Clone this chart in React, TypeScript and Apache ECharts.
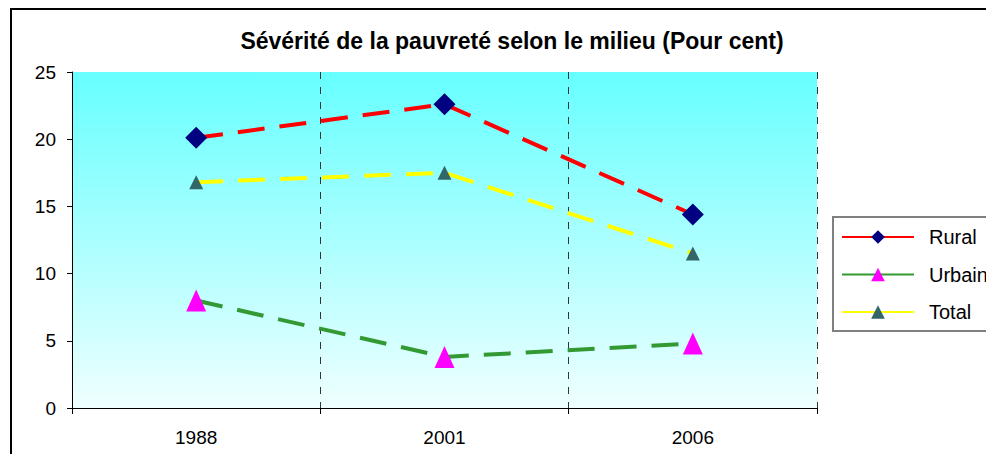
import React, { useEffect, useRef } from "react";
import * as echarts from "echarts";

const categories = ["1988", "2001", "2006"];
const rural = [20.1, 22.6, 14.4];
const urbain = [8.0, 3.8, 4.8];
const total = [16.8, 17.5, 11.5];
const yTicks = { min: 0, max: 25, interval: 5 };

export default function App() {
  const ref = useRef<HTMLDivElement>(null);
  useEffect(() => {
    if (!ref.current) return;
    const chart = echarts.init(ref.current, null, { renderer: "svg" });
    const font = "Liberation Sans, Arial, sans-serif";
    chart.setOption({
      animation: false,
      textStyle: { fontFamily: font },
      title: {
        text: "Sévérité de la pauvreté selon le milieu (Pour cent)",
        left: 507,
        textAlign: "center",
        top: 24,
        textStyle: { fontFamily: font, fontWeight: "bold", fontSize: 23, color: "#000" },
      },
      graphic: [
        {
          type: "rect",
          z: 0,
          shape: { x: 11, y: 9, width: 1000, height: 500 },
          style: { fill: "none", stroke: "#000", lineWidth: 2 },
        },
        {
          type: "rect",
          z: 0,
          shape: { x: 833, y: 217, width: 200, height: 114 },
          style: { fill: "#fff", stroke: "#808080", lineWidth: 2 },
        },
      ],
      legend: {
        orient: "vertical",
        left: 841,
        top: 227,
        itemWidth: 72,
        itemHeight: 17,
        itemGap: 17.5,
        padding: 0,
        z: 10,
        lineStyle: { type: "solid" },
        textStyle: { fontFamily: font, fontSize: 20, color: "#000", padding: [0, 0, 0, 10] },
        data: ["Rural", "Urbain", "Total"],
      },
      grid: {
        left: 72,
        top: 72,
        width: 745,
        height: 336,
        show: true,
        borderWidth: 0,
        backgroundColor: {
          type: "linear",
          x: 0,
          y: 0,
          x2: 0,
          y2: 1,
          colorStops: [
            { offset: 0, color: "#66FFFF" },
            { offset: 1, color: "#EFFFFF" },
          ],
        },
      },
      xAxis: {
        type: "category",
        data: categories,
        boundaryGap: true,
        axisLine: { lineStyle: { color: "#000", width: 1 } },
        axisTick: { show: true, length: 6, lineStyle: { color: "#000" } },
        axisLabel: { fontSize: 19, color: "#000", margin: 20, fontFamily: font },
        splitLine: {
          show: true,
          lineStyle: { color: "#333", width: 1, type: [7, 8] },
        },
      },
      yAxis: {
        type: "value",
        min: yTicks.min,
        max: yTicks.max,
        interval: yTicks.interval,
        axisLine: { show: true, lineStyle: { color: "#000", width: 1 } },
        axisTick: { show: true, length: 5, lineStyle: { color: "#000" } },
        axisLabel: { fontSize: 19, color: "#000", margin: 16, fontFamily: font },
        splitLine: { show: false },
      },
      series: [
        {
          name: "Rural",
          type: "line",
          data: rural,
          symbol: "diamond",
          symbolSize: 22,
          itemStyle: { color: "#000080" },
          lineStyle: { color: "#FF0000", width: 4, type: [27, 15] },
          z: 3,
        },
        {
          name: "Urbain",
          type: "line",
          data: urbain,
          symbol: "triangle",
          symbolSize: [20, 22],
          itemStyle: { color: "#FF00FF" },
          lineStyle: { color: "#339933", width: 4, type: [27, 15] },
          z: 3,
        },
        {
          name: "Total",
          type: "line",
          data: total,
          symbol: "triangle",
          symbolSize: [14, 14],
          itemStyle: { color: "#336666" },
          lineStyle: { color: "#FFFF00", width: 4, type: [27, 15] },
          z: 3,
        },
      ],
    });
    return () => chart.dispose();
  }, []);
  return <div ref={ref} style={{ width: 986, height: 454, position: "absolute", left: 0, top: 0 }} />;
}
